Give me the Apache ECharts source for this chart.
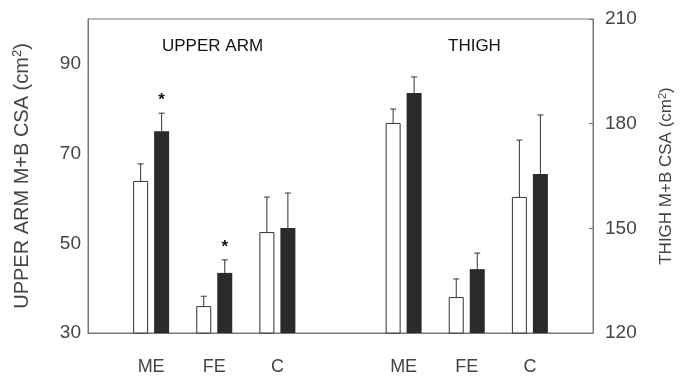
<!DOCTYPE html>
<html>
<head>
<meta charset="utf-8">
<script src="https://cdn.jsdelivr.net/npm/echarts@6/dist/echarts.min.js"></script>
<style>
  html, body { margin: 0; padding: 0; background: #fff; }
  #chart { width: 683px; height: 376px; }
</style>
</head>
<body>
<div id="chart"></div>
<script>
// groups on the x axis (same three for each muscle region)
const groups = ['ME', 'FE', 'C'];

// upper arm (left axis), open = white bar, filled = black bar
const armOpen = [63.9, 36.0, 52.5];
const armOpenErr = [3.8, 2.2, 7.8];
const armFilled = [75.0, 43.4, 53.4];
const armFilledErr = [4.0, 2.9, 7.8];
const armStars = ['*', '*', ''];

// thigh (right axis)
const thighOpen = [180.2, 130.3, 159.0];
const thighOpenErr = [4.0, 5.2, 16.3];
const thighFilled = [188.8, 138.3, 165.6];
const thighFilledErr = [4.6, 4.6, 16.9];
const thighStars = ['', '', ''];
const noStars = ['', '', ''];

const leftTicks = [30, 50, 70, 90];
const rightTicks = [120, 150, 180, 210];

// one empty slot at each end and between the two regions
const cats = [''].concat(groups, [''], groups, ['']);
const armIdx = [1, 2, 3];
const thighIdx = [5, 6, 7];

function barData(idx, vals) {
    return cats.map((c, i) => {
        const k = idx.indexOf(i);
        return k >= 0 ? vals[k] : '-';
    });
}
function errData(idx, vals, errs) {
    return idx.map((i, k) => [i, vals[k], vals[k] + errs[k]]);
}

const BAR_W = 15;
const OFFSET = 10.5;
const font = '"Liberation Sans", Arial, sans-serif';

// error bar going up from the bar top, with a small cap and an optional star
function errBar(offset, starList) {
    return function (params, api) {
        const top = api.coord([api.value(0), api.value(2)]);
        const bar = api.coord([api.value(0), api.value(1)]);
        const x = top[0] + offset;
        const style = { stroke: '#333', lineWidth: 1 };
        const children = [
            { type: 'line', shape: { x1: x, y1: bar[1], x2: x, y2: top[1] }, style: style },
            { type: 'line', shape: { x1: x - 3, y1: top[1], x2: x + 3, y2: top[1] }, style: style }
        ];
        const s = starList[params.dataIndex];
        if (s) {
            children.push({
                type: 'text',
                style: { text: s, x: x, y: top[1] - 13, align: 'center', verticalAlign: 'middle',
                         font: 'bold 17px ' + font, fill: '#111' }
            });
        }
        return { type: 'group', children: children };
    };
}

const textColor = '#444';
const lineColor = '#777';

const chart = echarts.init(document.getElementById('chart'));

const xBase = {
    type: 'category',
    data: cats,
    boundaryGap: false,
    gridIndex: 0,
    axisTick: { show: false },
    axisLine: { lineStyle: { color: lineColor, width: 1 } },
    axisLabel: { interval: 0, fontSize: 18, color: textColor, margin: 25, fontFamily: font },
    splitLine: { show: false }
};

const option = {
    backgroundColor: '#fff',
    animation: false,
    textStyle: { fontFamily: font },
    title: [
        { text: 'UPPER ARM', left: 157, top: 33, textStyle: { fontSize: 17, fontWeight: 'normal', color: '#111', fontFamily: font } },
        { text: 'THIGH', left: 443, top: 33, textStyle: { fontSize: 17, fontWeight: 'normal', color: '#111', fontFamily: font } }
    ],
    grid: {
        left: 88, right: 88, top: 19, bottom: 43,
        show: true, borderColor: lineColor, borderWidth: 1
    },
    xAxis: [
        xBase,
        Object.assign({}, xBase, { show: false })
    ],
    yAxis: [
        {
            type: 'value',
            min: 30, max: 100,
            name: '{a|UPPER ARM M+B CSA (cm}{s|2}{a|)}',
            nameLocation: 'middle',
            nameRotate: 90,
            nameGap: 55,
            nameTextStyle: {
                color: textColor,
                rich: {
                    a: { fontSize: 20, color: textColor, fontFamily: font },
                    s: { fontSize: 13, color: textColor, fontFamily: font, verticalAlign: 'top', padding: [0, 0, 9, 0] }
                }
            },
            axisLine: { show: true, lineStyle: { color: lineColor } },
            axisTick: { show: false },
            splitLine: { show: false },
            axisLabel: { customValues: leftTicks, fontSize: 19, color: textColor, margin: 7, fontFamily: font }
        },
        {
            type: 'value',
            position: 'right',
            min: rightTicks[0], max: rightTicks[rightTicks.length - 1], interval: 30,
            name: '{a|THIGH M+B CSA (cm}{s|2}{a|)}',
            nameLocation: 'middle',
            nameRotate: 90,
            nameGap: 64,
            nameTextStyle: {
                color: textColor,
                rich: {
                    a: { fontSize: 17, color: textColor, fontFamily: font },
                    s: { fontSize: 11, color: textColor, fontFamily: font, verticalAlign: 'top', padding: [0, 0, 8, 0] }
                }
            },
            axisLine: { show: true, lineStyle: { color: lineColor } },
            axisTick: { show: true, inside: true, length: 4, lineStyle: { color: lineColor } },
            splitLine: { show: false },
            axisLabel: { fontSize: 19, color: textColor, margin: 12, fontFamily: font }
        }
    ],
    series: [
        {
            name: 'armOpen', type: 'bar', xAxisIndex: 0, yAxisIndex: 0,
            data: barData(armIdx, armOpen), barWidth: BAR_W, barGap: '40%',
            itemStyle: { color: '#fff', borderColor: '#333', borderWidth: 1 }
        },
        {
            name: 'armFilled', type: 'bar', xAxisIndex: 0, yAxisIndex: 0,
            data: barData(armIdx, armFilled), barWidth: BAR_W, barGap: '40%',
            itemStyle: { color: '#2a2a2a' }
        },
        {
            name: 'thighOpen', type: 'bar', xAxisIndex: 1, yAxisIndex: 1,
            data: barData(thighIdx, thighOpen), barWidth: BAR_W, barGap: '40%',
            itemStyle: { color: '#fff', borderColor: '#333', borderWidth: 1 }
        },
        {
            name: 'thighFilled', type: 'bar', xAxisIndex: 1, yAxisIndex: 1,
            data: barData(thighIdx, thighFilled), barWidth: BAR_W, barGap: '40%',
            itemStyle: { color: '#2a2a2a' }
        },
        {
            name: 'armOpenErr', type: 'custom', xAxisIndex: 0, yAxisIndex: 0,
            data: errData(armIdx, armOpen, armOpenErr),
            renderItem: errBar(-OFFSET, noStars), z: 3
        },
        {
            name: 'armFilledErr', type: 'custom', xAxisIndex: 0, yAxisIndex: 0,
            data: errData(armIdx, armFilled, armFilledErr),
            renderItem: errBar(OFFSET, armStars), z: 3
        },
        {
            name: 'thighOpenErr', type: 'custom', xAxisIndex: 1, yAxisIndex: 1,
            data: errData(thighIdx, thighOpen, thighOpenErr),
            renderItem: errBar(-OFFSET, noStars), z: 3
        },
        {
            name: 'thighFilledErr', type: 'custom', xAxisIndex: 1, yAxisIndex: 1,
            data: errData(thighIdx, thighFilled, thighFilledErr),
            renderItem: errBar(OFFSET, thighStars), z: 3
        }
    ]
};

chart.setOption(option);
</script>
</body>
</html>
